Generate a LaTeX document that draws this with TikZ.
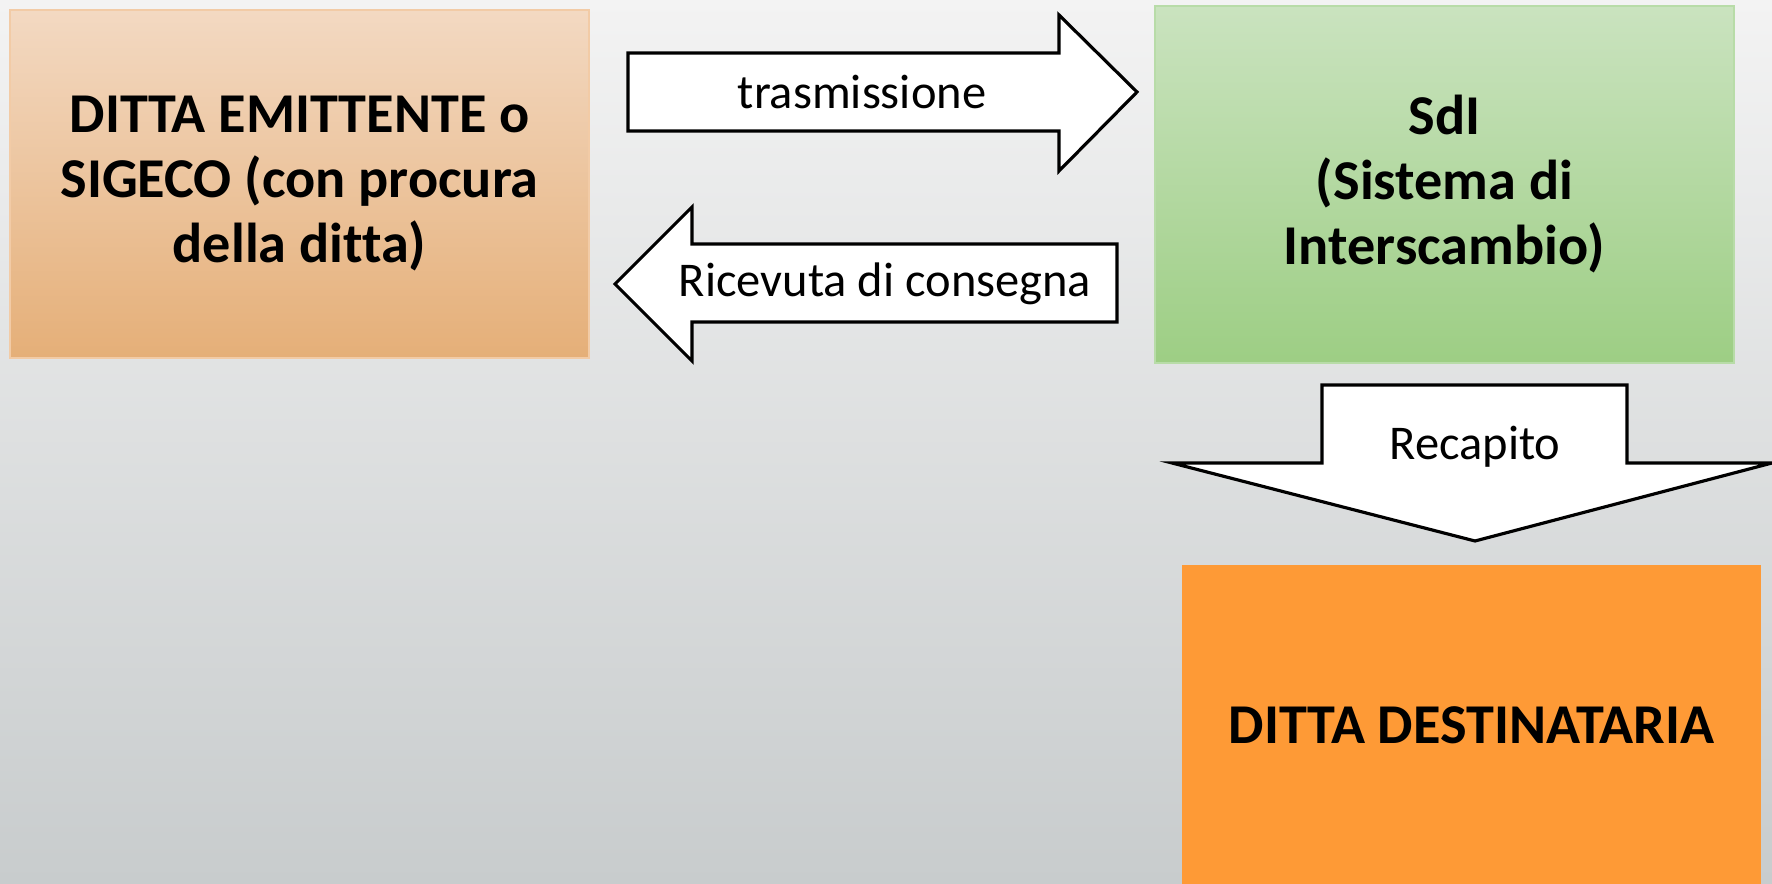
\documentclass[tikz,border=0pt]{standalone}
\usepackage{fontspec}
\setmainfont[Ligatures=NoCommon]{Carlito}
\usepackage{xcolor}
\usepackage{tikz}

\definecolor{bgtop}{HTML}{F3F3F3}
\definecolor{bgbot}{HTML}{C8CCCD}
\definecolor{emittop}{HTML}{F3D9C2}
\definecolor{emitbot}{HTML}{E5AF78}
\definecolor{emitline}{HTML}{F2CBA6}
\definecolor{sditop}{HTML}{CAE3BF}
\definecolor{sdibot}{HTML}{9DCE84}
\definecolor{sdiline}{HTML}{B8DCA8}
\definecolor{destfill}{HTML}{FE9A36}

\tikzset{
  box/.style={rectangle, minimum width=5.79cm, align=center,
    font=\bfseries\fontsize{16}{18.5}\selectfont},
  blockarrow/.style={draw=black, fill=white, line width=0.9pt, line join=miter},
  arrowlabel/.style={font=\fontsize{13.8}{16}\selectfont}
}

\begin{document}
\begin{tikzpicture}
  \shade[top color=bgtop, bottom color=bgbot] (0,0) rectangle (17.72,8.83);
  \useasboundingbox (0,0) rectangle (17.72,8.83);

  \node[box, minimum height=3.48cm, top color=emittop, bottom color=emitbot, draw=emitline] (emit) at (2.995,6.99)
    {DITTA EMITTENTE o\\SIGECO (con procura\\della ditta)};
  \node[box, minimum height=3.57cm, top color=sditop, bottom color=sdibot, draw=sdiline] (sdi) at (14.445,6.985)
    {SdI\\(Sistema di\\Interscambio)};
  \node[box, minimum height=3.2cm, fill=destfill] (dest) at (14.715,1.58) {DITTA DESTINATARIA};

  % trasmissione
  \draw[blockarrow] (6.28,8.30) -- (10.59,8.30) -- (10.59,8.68) -- (11.37,7.91)
    -- (10.59,7.12) -- (10.59,7.52) -- (6.28,7.52) -- cycle;
  \node[arrowlabel] (trasm) at (8.62,7.91) {trasmissione};

  % ricevuta
  \draw[blockarrow] (11.17,6.39) -- (6.92,6.39) -- (6.92,6.76) -- (6.15,5.99)
    -- (6.92,5.22) -- (6.92,5.61) -- (11.17,5.61) -- cycle;
  \node[arrowlabel] (ricev) at (8.85,5.99) {Ricevuta di consegna};

  % recapito
  \draw[blockarrow] (13.22,4.98) -- (16.27,4.98) -- (16.27,4.20) -- (17.72,4.20)
    -- (14.75,3.42) -- (11.72,4.20) -- (13.22,4.20) -- cycle;
  \node[arrowlabel] (recap) at (14.75,4.36) {Recapito};
\end{tikzpicture}
\end{document}
